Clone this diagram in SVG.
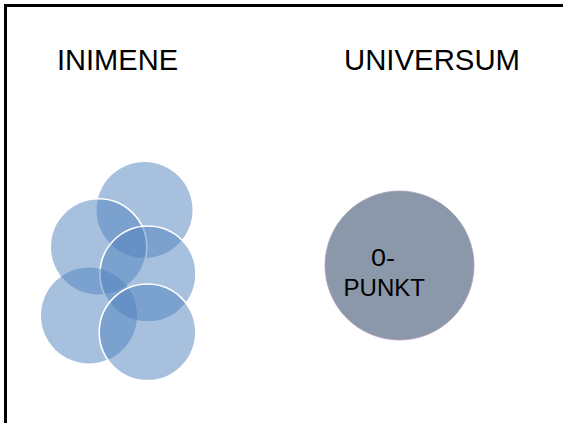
<svg xmlns="http://www.w3.org/2000/svg" width="563" height="423" viewBox="0 0 563 423">
<style>
.t{font-family:"Liberation Sans",Arial,sans-serif;fill:#000}
.c{fill:#4f81bd;fill-opacity:0.5}
.w{stroke:#fff;stroke-width:1.6}
</style>
<rect width="563" height="423" fill="#fff"/>
<path d="M5.5,423 V5.5 H563" fill="none" stroke="#000" stroke-width="3"/>
<g id="title-inimene"><text class="t" x="57" y="70" font-size="30" textLength="121" lengthAdjust="spacingAndGlyphs">INIMENE</text></g>
<g id="title-universum"><text class="t" x="344" y="70" font-size="30" textLength="176" lengthAdjust="spacingAndGlyphs">UNIVERSUM</text></g>
<g id="cluster">
<circle id="c1" class="c" cx="144.5" cy="210" r="48"/>
<circle id="c2" class="c w" cx="98.5" cy="247" r="48.3"/>
<circle id="c3" class="c w" cx="148" cy="274" r="48"/>
<circle id="c4" class="c" cx="89" cy="315.5" r="48"/>
<circle id="c5" class="c w" cx="147.5" cy="332.3" r="48.3"/>
</g>
<g id="zero-point">
<circle cx="399.5" cy="265.5" r="74.5" fill="#8b98a9" stroke="#a9a0b8" stroke-width="0.8"/>
<text class="t" x="371" y="266" font-size="24" textLength="24" lengthAdjust="spacingAndGlyphs">0-</text>
<text class="t" x="343.5" y="296" font-size="24" textLength="81.5" lengthAdjust="spacingAndGlyphs">PUNKT</text>
</g>
<g id="connectors"/>
</svg>
